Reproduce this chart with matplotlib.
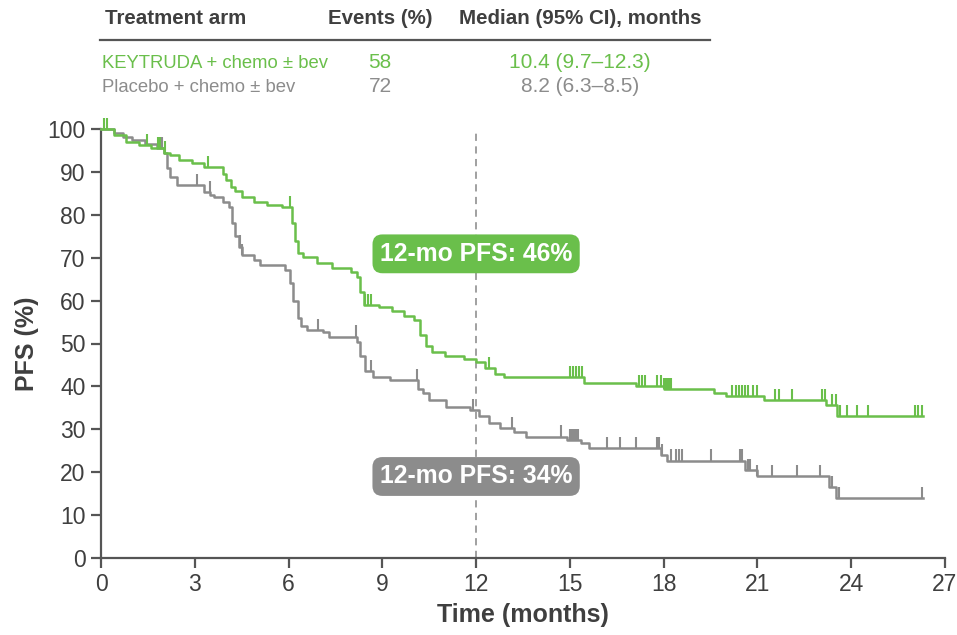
import numpy as np
import matplotlib
matplotlib.use("Agg")
import matplotlib.pyplot as plt

# ---------------- data ----------------
green_t = [0, 0.4, 0.8, 1.2, 1.6, 2.0, 2.2, 2.5, 2.9, 3.3, 3.9, 4.0, 4.15, 4.3, 4.5, 4.9, 5.3, 5.8,
           6.1, 6.2, 6.3, 6.45, 6.9, 7.4, 8.0, 8.2, 8.3, 8.4, 8.9, 9.3, 9.7, 10.0, 10.2, 10.4, 10.6,
           11.0, 11.6, 12.0, 12.3, 12.6, 12.9, 15.45, 17.1, 18.0, 19.6, 20.0, 21.2, 23.2, 23.55]
green_s = [100, 98.5, 97, 96.2, 95.5, 94.5, 94, 92.8, 92, 91.2, 89.5, 88, 86.5, 85.5, 84.2, 83, 82.3, 81.8,
           78, 74, 71, 70.2, 68.7, 67.6, 66.7, 65.5, 62, 59, 58.4, 57.5, 56.5, 55.5, 52, 49.5, 48,
           47.2, 46.5, 45.7, 44.2, 43, 42.2, 40.8, 40.0, 39.4, 38.5, 37.8, 36.8, 35.7, 33.0]
green_end = 26.3
green_cens = [0.08, 0.2, 1.47, 1.83, 1.9, 2.05, 3.42, 6.05, 8.45, 8.55, 8.65, 12.4,
              15.0, 15.1, 15.2, 15.3, 15.4, 17.2, 17.3, 17.4, 17.8, 17.9, 18.0, 18.05, 18.1,
              18.15, 18.2, 18.25, 20.2, 20.3, 20.4, 20.5, 20.6, 20.7, 20.85, 21.0, 21.55, 21.7,
              22.1, 23.05, 23.15, 23.4, 23.5, 23.65, 23.85, 24.2, 24.55, 26.05, 26.15, 26.25]

grey_t = [0, 0.4, 0.7, 1.0, 1.4, 1.8, 2.0, 2.1, 2.2, 2.43, 3.3, 3.5, 3.6, 3.9, 4.1, 4.2, 4.3, 4.4,
          4.5, 4.9, 5.1, 5.9, 6.05, 6.15, 6.3, 6.4, 6.6, 7.1, 7.3, 8.2, 8.3, 8.45, 8.7, 9.25, 10.15,
          10.3, 10.5, 11.05, 11.8, 12.1, 12.4, 12.76, 13.2, 13.6, 14.9, 15.35, 15.6, 17.9, 18.1,
          20.6, 21.0, 23.3, 23.5]
grey_s = [100, 99, 98.2, 97.4, 96.5, 95.5, 94.5, 91, 88.9, 87, 85.3, 84.6, 84.2, 83, 81.8, 78, 75, 72.6,
          70.6, 69.5, 68.3, 67.1, 64, 60, 56, 54, 53.1, 52.7, 51.6, 50.4, 47, 43.5, 42.3, 41.5, 39.5,
          38.4, 36.8, 35.3, 34.5, 33, 31.4, 30.3, 29.4, 28.3, 27.5, 26.8, 25.6, 24, 22.7,
          20.5, 19.0, 16.6, 14.0]
grey_end = 26.3
grey_cens = [1.95, 3.07, 3.49, 4.45, 4.5, 6.95, 8.15, 8.65, 10.1, 11.9, 13.15, 14.7,
             15.0, 15.05, 15.1, 15.15, 15.2, 15.25, 16.2, 16.6, 17.1, 17.8, 17.85, 17.95,
             18.25, 18.4, 18.5, 18.6, 19.5, 20.45, 20.5, 20.7, 20.75, 21.0, 21.45, 22.25,
             23.0, 23.4, 23.6, 26.25]

x_ticks = [0, 3, 6, 9, 12, 15, 18, 21, 24, 27]
y_ticks = [0, 10, 20, 30, 40, 50, 60, 70, 80, 90, 100]

header = ["Treatment arm", "Events (%)", "Median (95% CI), months"]
arms = ["KEYTRUDA + chemo \u00b1 bev", "Placebo + chemo \u00b1 bev"]
events = ["58", "72"]
medians = ["10.4 (9.7\u201312.3)", "8.2 (6.3\u20138.5)"]
landmark = 12
pfs12 = ["12-mo PFS: 46%", "12-mo PFS: 34%"]

GREEN = "#6abf4b"
GREY = "#8c8c8c"
DARK = "#3f3f3f"
AX = "#555555"

plt.rcParams['font.family'] = ['Liberation Sans', 'DejaVu Sans']

W, H = 957, 635
fig = plt.figure(figsize=(W / 100, H / 100), dpi=100)
ax = fig.add_axes([101 / W, 1 - 558 / H, (945 - 101) / W, (558 - 129) / H])


def step_val(ts, ss, t):
    i = np.searchsorted(ts, t, side='right') - 1
    return np.asarray(ss)[i]


for ts, ss, tend, cens, col in [(grey_t, grey_s, grey_end, grey_cens, GREY),
                                (green_t, green_s, green_end, green_cens, GREEN)]:
    xs = list(ts) + [tend]
    ys = list(ss) + [ss[-1]]
    ax.step(xs, ys, where='post', color=col, lw=1.8, clip_on=False, zorder=3)
    cy = step_val(ts, ss, np.array(cens))
    ax.vlines(cens, cy, cy + 2.6, color=col, lw=1.5, clip_on=False, zorder=3)

ax.axvline(landmark, ymin=0, ymax=1.0, color="#999999", lw=1.3, ls=(0, (4, 3)), zorder=1)

ax.set_xlim(0, 27)
ax.set_ylim(0, 100)
ax.set_xticks(x_ticks)
ax.set_yticks(y_ticks)
for s in ['top', 'right']:
    ax.spines[s].set_visible(False)
for s in ['left', 'bottom']:
    ax.spines[s].set_color(AX)
    ax.spines[s].set_linewidth(1.6)
ax.tick_params(axis='both', colors=AX, width=1.6, length=7, labelsize=16.5, labelcolor=DARK, pad=4)
ax.set_xlabel("Time (months)", fontsize=18, fontweight='bold', color=DARK, labelpad=5)
ax.set_ylabel("PFS (%)", fontsize=18, fontweight='bold', color=DARK, labelpad=6)

box_kw = dict(boxstyle="round,pad=0.3,rounding_size=0.4", ec='none')
ax.text(landmark, 70.9, pfs12[0], ha='center', va='center', fontsize=17.8, fontweight='bold',
        color='white', bbox=dict(fc=GREEN, **box_kw), zorder=5)
ax.text(landmark, 19.0, pfs12[1], ha='center', va='center', fontsize=17.8, fontweight='bold',
        color='white', bbox=dict(fc=GREY, **box_kw), zorder=5)


def fx(px):
    return px / W


def fy(py):
    return 1 - py / H


fig.text(fx(105), fy(18), header[0], fontsize=14.8, fontweight='bold', color=DARK, ha='left', va='center')
fig.text(fx(380), fy(18), header[1], fontsize=14.8, fontweight='bold', color=DARK, ha='center', va='center')
fig.text(fx(580), fy(18), header[2], fontsize=14.8, fontweight='bold', color=DARK, ha='center', va='center')
fig.add_artist(plt.Line2D([fx(100), fx(710)], [fy(40), fy(40)], color=AX, lw=1.6))

row_cols = [GREEN, GREY]
row_y = [63, 87]
for i in range(2):
    fig.text(fx(102), fy(row_y[i]), arms[i], fontsize=13.3, color=row_cols[i], ha='left', va='center')
    fig.text(fx(380), fy(row_y[i]), events[i], fontsize=15, color=row_cols[i], ha='center', va='center')
    fig.text(fx(580), fy(row_y[i]), medians[i], fontsize=15, color=row_cols[i], ha='center', va='center')

fig.savefig("out.png", dpi=100)
